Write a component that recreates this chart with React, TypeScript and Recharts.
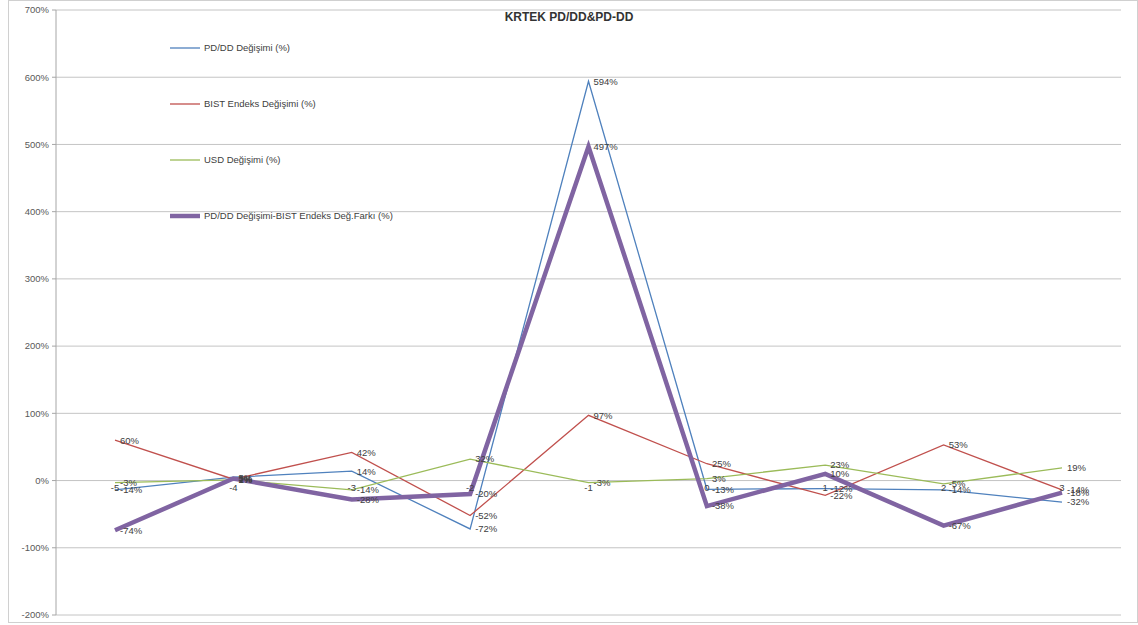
import React from 'react';
import { LineChart, Line, XAxis, YAxis, CartesianGrid, LabelList } from 'recharts';

const categories = ['-5', '-4', '-3', '-2', '-1', '0', '1', '2', '3'];
const pdddChange = [-14, 5, 14, -72, 594, -13, -12, -14, -32];
const bistChange = [60, 2, 42, -52, 97, 25, -22, 53, -14];
const usdChange = [-3, 1, -14, 32, -3, 3, 23, -5, 19];
const diffChange = [-74, 3, -28, -20, 497, -38, 10, -67, -18];
const yTicks = [-200, -100, 0, 100, 200, 300, 400, 500, 600, 700];

const seriesInfo = [
  { key: 'pddd', name: 'PD/DD Değişimi (%)', color: '#4F81BD', width: 1.3 },
  { key: 'bist', name: 'BIST Endeks Değişimi (%)', color: '#C0504D', width: 1.3 },
  { key: 'usd', name: 'USD Değişimi (%)', color: '#9BBB59', width: 1.3 },
  { key: 'diff', name: 'PD/DD Değişimi-BIST Endeks Değ.Farkı (%)', color: '#8064A2', width: 4.5 },
];

const data = categories.map((cat, i) => ({
  cat,
  pddd: pdddChange[i],
  bist: bistChange[i],
  usd: usdChange[i],
  diff: diffChange[i],
  axis: 0,
}));

const FONT = '"Liberation Sans", Arial, sans-serif';

// legend sits inside the plot area, like the Excel original
const LegendBox = () => (
  <div style={{ position: 'absolute', left: 170, top: 40, fontFamily: FONT, fontSize: 9.5, color: '#404040' }}>
    {seriesInfo.map(s => (
      <div key={s.key} style={{ height: 16, lineHeight: '16px', marginBottom: 40, display: 'flex', alignItems: 'center', whiteSpace: 'nowrap' }}>
        <svg width={30} height={8} style={{ marginRight: 4 }}>
          <line x1={0} y1={4} x2={30} y2={4} stroke={s.color} strokeWidth={s.width} />
        </svg>
        <span>{s.name}</span>
      </div>
    ))}
  </div>
);

const App: React.FC = () => {
  return (
    <div style={{ position: 'absolute', left: 0, top: 0, width: 1138, height: 625, background: '#fff' }}>
      <div style={{ position: 'absolute', left: 8, top: 0, width: 1128, height: 621, border: '1px solid #d0d0d0', pointerEvents: 'none' }} />
      <LineChart width={1138} height={625} data={data} margin={{ top: 10, right: 17, bottom: 10, left: 0 }}>
        <CartesianGrid vertical={false} stroke="#c4c4c4" />
        <XAxis dataKey="cat" hide padding={{ left: 59, right: 59 }} />
        <YAxis
          domain={[-200, 700]}
          ticks={yTicks}
          width={56}
          tickFormatter={(v: number) => `${v}%`}
          tick={{ fontSize: 9.5, fill: '#595959', fontFamily: FONT }}
          tickSize={4}
          tickMargin={3}
          stroke="#a6a6a6"
          interval={0}
        />
        <Line dataKey="axis" stroke="none" strokeWidth={0} dot={false} legendType="none" isAnimationActive={false}>
          <LabelList dataKey="cat" position="bottom" offset={4} style={{ fontSize: 9.5, fill: '#404040', fontFamily: FONT }} />
        </Line>
        {seriesInfo.map(s => (
          <Line
            key={s.key}
            dataKey={s.key}
            name={s.name}
            stroke={s.color}
            strokeWidth={s.width}
            dot={false}
            type="linear"
            isAnimationActive={false}
          >
            <LabelList
              dataKey={s.key}
              position="right"
              offset={5}
              formatter={(v: number) => `${v}%`}
              style={{ fontSize: 9.5, fill: '#404040', fontFamily: FONT }}
            />
          </Line>
        ))}
      </LineChart>
      <LegendBox />
      <div style={{ position: 'absolute', left: 0, width: 1138, top: 10, textAlign: 'center', fontFamily: FONT, fontWeight: 'bold', fontSize: 12, color: '#333' }}>
        KRTEK PD/DD&amp;PD-DD
      </div>
    </div>
  );
};

export default App;
